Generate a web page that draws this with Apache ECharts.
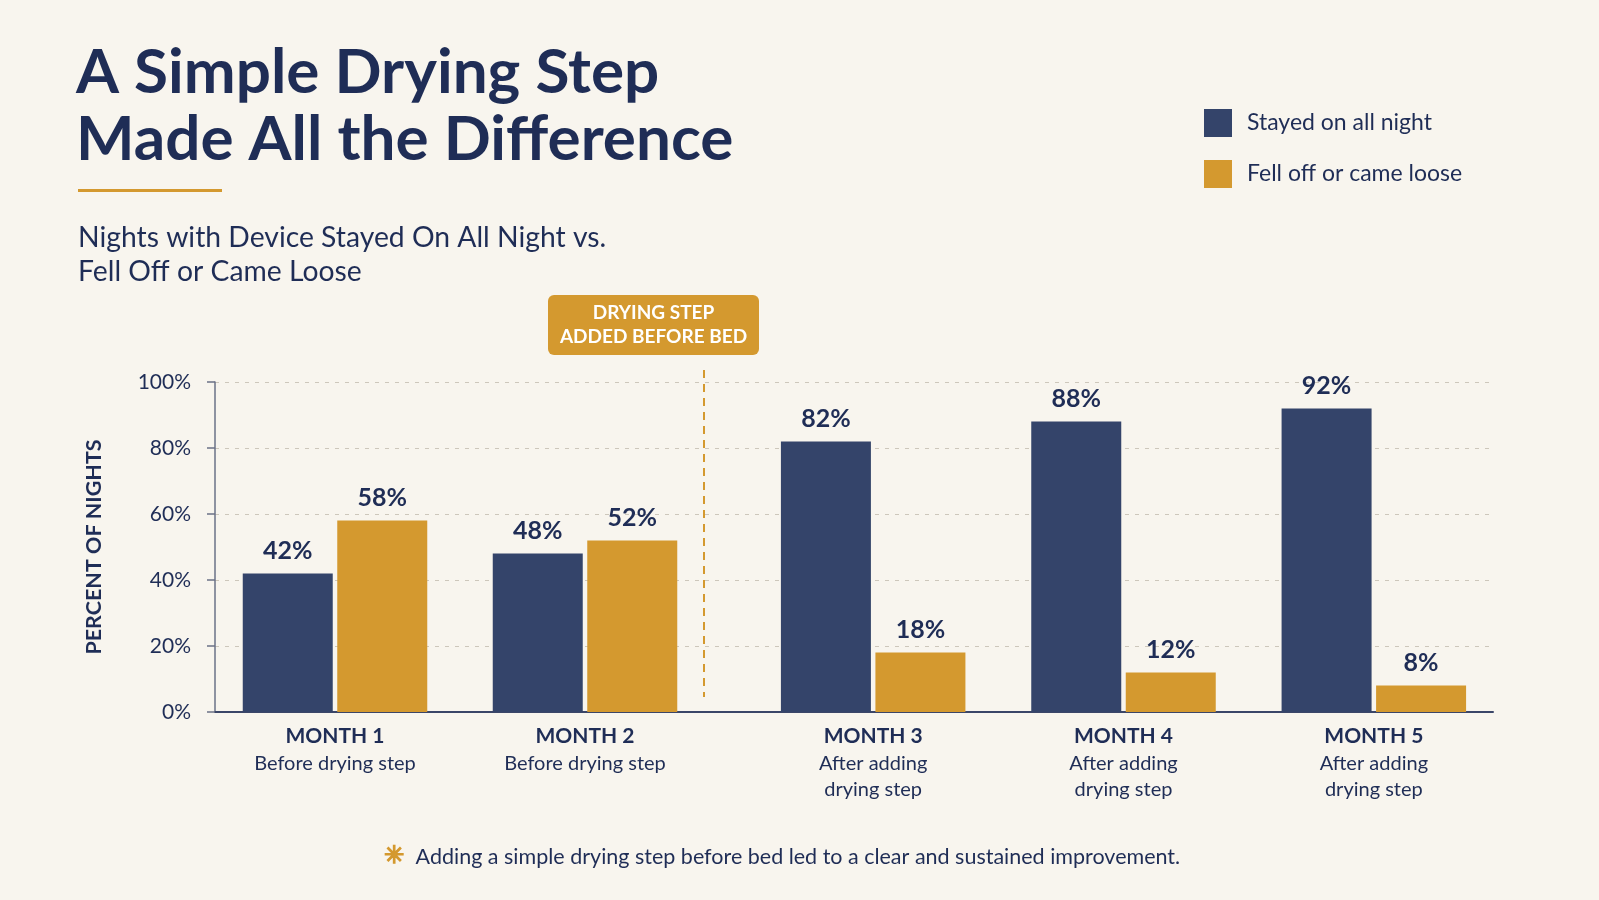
<!DOCTYPE html>
<html>
<head>
<meta charset="utf-8">
<title>A Simple Drying Step Made All the Difference</title>
<script src="https://cdn.jsdelivr.net/npm/echarts@6/dist/echarts.min.js"></script>
<style>
  html, body { margin: 0; padding: 0; background: #f8f5ee; }
  #chart { width: 1599px; height: 900px; }
</style>
</head>
<body>
<div id="chart"></div>
<script>
// data
var months = ['MONTH 1', 'MONTH 2', 'MONTH 3', 'MONTH 4', 'MONTH 5'];
var phases = ['Before drying step', 'Before drying step', 'After adding\ndrying step', 'After adding\ndrying step', 'After adding\ndrying step'];
var stayedOn = [42, 48, 82, 88, 92];
var fellOff = [58, 52, 18, 12, 8];
var yTicks = [0, 20, 40, 60, 80, 100];
var beforeCount = 2; // months before the drying step was added

var NAVY = '#34446a';
var TEXT = '#1f2d56';
var GOLD = '#d4992f';
var FONT = 'Lato, "Noto Sans", sans-serif';

var chart = echarts.init(document.getElementById('chart'));

function cats(from, to) {
    var out = [];
    for (var i = from; i < to; i++) out.push(months[i] + '\n' + phases[i]);
    return out;
}

var catAxisLabel = {
    interval: 0,
    margin: 9,
    formatter: function (v) {
        var parts = v.split('\n');
        return '{m|' + parts[0] + '}\n{s|' + parts.slice(1).join('\n') + '}';
    },
    rich: {
        m: { fontFamily: FONT, fontSize: 21, fontWeight: 'bold', color: TEXT, lineHeight: 30 },
        s: { fontFamily: FONT, fontSize: 20, color: TEXT, lineHeight: 26 }
    }
};

function barLabel() {
    return {
        show: true, position: 'top', distance: 10,
        formatter: '{c}%',
        fontFamily: FONT, fontSize: 25, fontWeight: 'bold', color: TEXT
    };
}

function hiddenY(idx) {
    return { gridIndex: idx, type: 'value', min: 0, max: 100, show: false };
}

var option = {
    backgroundColor: '#f8f5ee',
    animation: false,
    title: [
        {
            text: 'A Simple Drying Step\nMade All the Difference',
            left: 71, top: 34,
            textStyle: { fontFamily: FONT, fontSize: 62, fontWeight: 'bold', color: TEXT, lineHeight: 67 }
        },
        {
            text: 'Nights with Device Stayed On All Night vs.\nFell Off or Came Loose',
            left: 73, top: 216,
            textStyle: { fontFamily: FONT, fontSize: 28.3, fontWeight: 'normal', color: TEXT, lineHeight: 34 }
        },
        {
            text: '{star|✳} Adding a simple drying step before bed led to a clear and sustained improvement.',
            left: 379, top: 840,
            textStyle: {
                fontFamily: FONT, fontSize: 21.5, fontWeight: 'normal', color: TEXT,
                rich: {
                    star: {
                        fontFamily: 'DejaVu Sans', fontSize: 24, fontWeight: 'bold', color: GOLD,
                        textBorderColor: GOLD, textBorderWidth: 1.5, padding: [0, 6, 0, 0]
                    }
                }
            }
        }
    ],
    legend: {
        orient: 'vertical',
        left: 1199, top: 104,
        itemWidth: 28, itemHeight: 28, itemGap: 23,
        icon: 'rect',
        textStyle: { fontFamily: FONT, fontSize: 23, color: TEXT, padding: [0, 0, 0, 10] },
        data: ['Stayed on all night', 'Fell off or came loose']
    },
    grid: [
        { left: 215, right: 106, top: 382, bottom: 188 },
        { left: 210, width: 500, top: 382, bottom: 188 },
        { left: 748, width: 751, top: 382, bottom: 188 }
    ],
    xAxis: [
        {
            gridIndex: 0, type: 'value', min: 0, max: 1,
            axisLine: { show: true, lineStyle: { color: '#3b4668', width: 2 } },
            axisTick: { show: false }, axisLabel: { show: false }, splitLine: { show: false }
        },
        {
            gridIndex: 1, type: 'category', data: cats(0, beforeCount),
            axisLine: { show: false }, axisTick: { show: false },
            axisLabel: catAxisLabel
        },
        {
            gridIndex: 2, type: 'category', data: cats(beforeCount, months.length),
            axisLine: { show: false }, axisTick: { show: false },
            axisLabel: catAxisLabel
        }
    ],
    yAxis: [
        {
            gridIndex: 0, type: 'value',
            min: yTicks[0], max: yTicks[yTicks.length - 1], interval: yTicks[1] - yTicks[0],
            name: 'PERCENT OF NIGHTS',
            nameLocation: 'middle', nameGap: 110, nameRotate: 90,
            nameTextStyle: { fontFamily: FONT, fontSize: 21.5, fontWeight: 'bold', color: TEXT },
            axisLine: { show: true, lineStyle: { color: '#6b7287', width: 1.5 } },
            axisTick: { show: true, length: 8, lineStyle: { color: '#6b7287', width: 1.5 } },
            axisLabel: { margin: 24, formatter: '{value}%', fontFamily: FONT, fontSize: 21, color: TEXT },
            splitLine: { show: true, lineStyle: { color: '#cdc7bb', type: [4, 6], width: 1 } }
        },
        hiddenY(1),
        hiddenY(2)
    ],
    graphic: [
        { type: 'rect', left: 78, top: 189, shape: { width: 144, height: 3 }, style: { fill: GOLD } },
        {
            type: 'line', shape: { x1: 704, y1: 370, x2: 704, y2: 697 },
            style: { stroke: GOLD, lineWidth: 2, lineDash: [8, 6] }
        },
        {
            type: 'group', left: 548, top: 295,
            children: [
                { type: 'rect', shape: { x: 0, y: 0, width: 211, height: 60, r: 6 }, style: { fill: GOLD } },
                {
                    type: 'text', x: 105.5, y: 30,
                    style: {
                        text: 'DRYING STEP\nADDED BEFORE BED',
                        fill: '#ffffff', font: 'bold 19px ' + FONT,
                        lineHeight: 24, align: 'center', verticalAlign: 'middle'
                    }
                }
            ]
        }
    ],
    series: [
        {
            name: 'Stayed on all night', type: 'bar', xAxisIndex: 1, yAxisIndex: 1,
            data: stayedOn.slice(0, beforeCount), barWidth: 90, barGap: '5%',
            itemStyle: { color: NAVY }, label: barLabel()
        },
        {
            name: 'Fell off or came loose', type: 'bar', xAxisIndex: 1, yAxisIndex: 1,
            data: fellOff.slice(0, beforeCount), barWidth: 90, barGap: '5%',
            itemStyle: { color: GOLD }, label: barLabel()
        },
        {
            name: 'Stayed on all night', type: 'bar', xAxisIndex: 2, yAxisIndex: 2,
            data: stayedOn.slice(beforeCount), barWidth: 90, barGap: '5%',
            itemStyle: { color: NAVY }, label: barLabel()
        },
        {
            name: 'Fell off or came loose', type: 'bar', xAxisIndex: 2, yAxisIndex: 2,
            data: fellOff.slice(beforeCount), barWidth: 90, barGap: '5%',
            itemStyle: { color: GOLD }, label: barLabel()
        }
    ]
};

chart.setOption(option);
</script>
</body>
</html>
